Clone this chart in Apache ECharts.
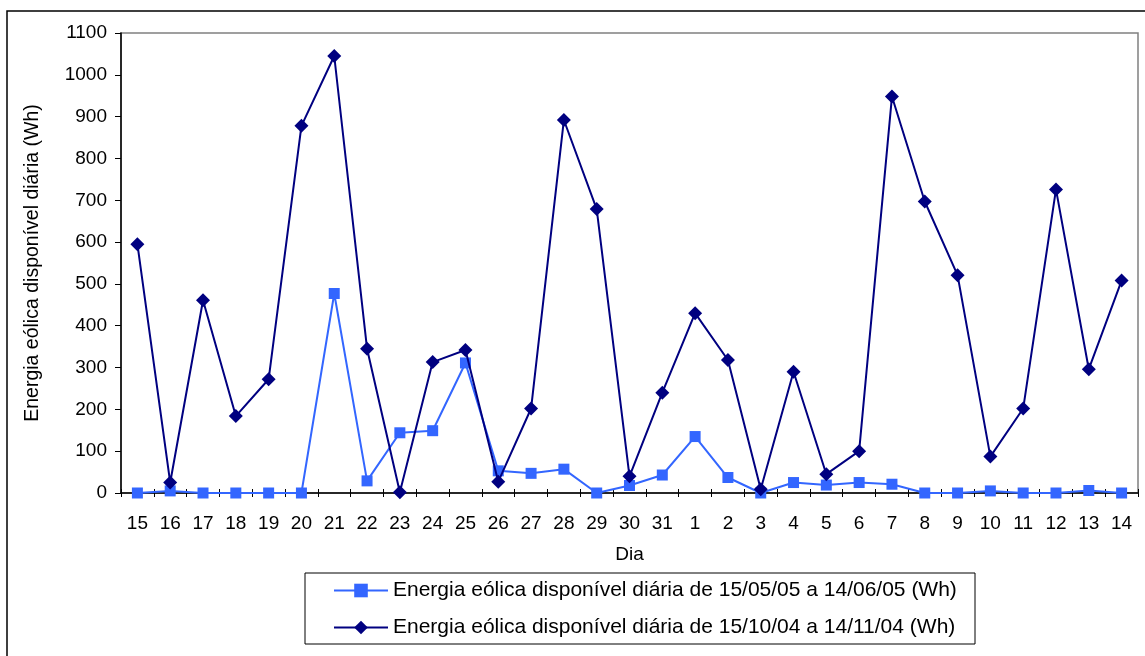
<!DOCTYPE html>
<html>
<head>
<meta charset="utf-8">
<script src="https://cdn.jsdelivr.net/npm/echarts@6/dist/echarts.min.js"></script>
<style>
  html, body { margin: 0; padding: 0; background: #fff; }
  #chart { width: 1145px; height: 656px; }
</style>
</head>
<body>
<div id="chart"></div>
<script>
// Days (15 Oct/May .. 14 Nov/Jun)
const days = ["15", "16", "17", "18", "19", "20", "21", "22", "23", "24", "25", "26", "27", "28", "29", "30", "31",
              "1", "2", "3", "4", "5", "6", "7", "8", "9", "10", "11", "12", "13", "14"];

// Energia eólica disponível diária de 15/05/05 a 14/06/05 (Wh)
const energiaMaiJun = [0, 5, 0, 0, 0, 0, 477, 29, 144, 149, 311, 53, 47, 57, 0, 18, 43,
                       135, 37, 0, 25, 19, 25, 21, 0, 0, 5, 0, 0, 6, 0];

// Energia eólica disponível diária de 15/10/04 a 14/11/04 (Wh)
const energiaOutNov = [595, 25, 461, 184, 272, 878, 1045, 345, 2, 313, 342, 27, 202, 892, 679, 40, 240,
                       430, 318, 9, 290, 45, 100, 948, 697, 521, 87, 202, 726, 296, 508];

const serieNames = [
    "Energia eólica disponível diária de 15/05/05 a 14/06/05 (Wh)",
    "Energia eólica disponível diária de 15/10/04 a 14/11/04 (Wh)"
];

const font = "'Liberation Sans', Arial, sans-serif";
const chart = echarts.init(document.getElementById("chart"), null, { renderer: "canvas" });

const option = {
    backgroundColor: "#fff",
    animation: false,
    textStyle: { fontFamily: font, color: "#000" },
    graphic: [
        {
            // outer chart frame
            type: "rect",
            shape: { x: 7, y: 11, width: 1150, height: 660 },
            style: { fill: "none", stroke: "#000", lineWidth: 1.5 },
            silent: true
        },
        {
            // legend frame
            type: "rect",
            shape: { x: 305, y: 573, width: 670, height: 71 },
            style: { fill: "none", stroke: "#000", lineWidth: 1 },
            silent: true
        }
    ],
    grid: {
        left: 121,
        right: 7,
        top: 33,
        bottom: 163,
        show: true,
        borderColor: "#808080",
        borderWidth: 1.5
    },
    legend: {
        orient: "vertical",
        left: 333,
        top: 580,
        padding: 0,
        itemWidth: 54,
        itemHeight: 17,
        itemGap: 16,
        textStyle: { fontFamily: font, fontSize: 21, color: "#000" },
        data: serieNames
    },
    xAxis: [
        {
            type: "category",
            data: days,
            boundaryGap: true,
            name: "Dia",
            nameLocation: "middle",
            nameGap: 52,
            nameTextStyle: { fontFamily: font, fontSize: 19, color: "#000" },
            axisLine: { lineStyle: { color: "#000", width: 1.5 } },
            axisTick: { show: true, length: 4, lineStyle: { color: "#000" } },
            axisLabel: { fontFamily: font, fontSize: 19, color: "#000", margin: 21, interval: 0 }
        },
        {
            // inner half of the cross tick marks
            type: "category",
            data: days,
            position: "bottom",
            boundaryGap: true,
            axisLine: { show: false },
            axisTick: { show: true, inside: true, length: 4, lineStyle: { color: "#000" } },
            axisLabel: { show: false }
        }
    ],
    yAxis: {
        type: "value",
        min: 0,
        max: 1100,
        interval: 100,
        name: "Energia eólica disponível diária (Wh)",
        nameLocation: "middle",
        nameGap: 78,
        nameTextStyle: { fontFamily: font, fontSize: 19.5, color: "#000" },
        axisLine: { show: true, lineStyle: { color: "#000", width: 1.5 } },
        axisTick: { show: true, length: 6, lineStyle: { color: "#000" } },
        axisLabel: { fontFamily: font, fontSize: 19, color: "#000", margin: 14, formatter: v => String(v) },
        splitLine: { show: false }
    },
    series: [
        {
            name: serieNames[0],
            type: "line",
            data: energiaMaiJun,
            symbol: "rect",
            symbolSize: 11,
            lineStyle: { color: "#3366FF", width: 2 },
            itemStyle: { color: "#3366FF" },
            z: 2
        },
        {
            name: serieNames[1],
            type: "line",
            data: energiaOutNov,
            symbol: "diamond",
            symbolSize: 14,
            lineStyle: { color: "#000080", width: 2 },
            itemStyle: { color: "#000080" },
            z: 3
        }
    ]
};

chart.setOption(option);
</script>
</body>
</html>
